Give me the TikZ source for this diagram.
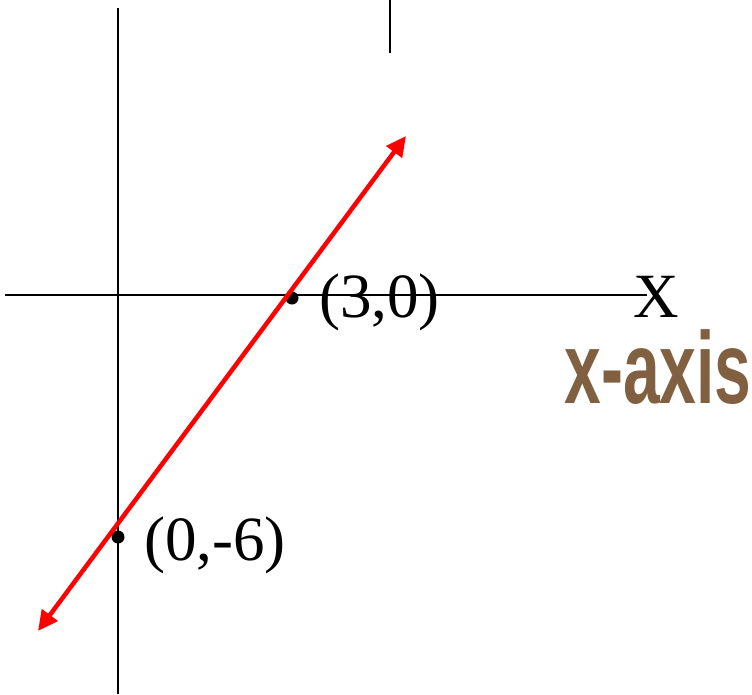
\documentclass[tikz,border=0pt]{standalone}
\usepackage{fontspec}
\setmainfont{Liberation Serif}
\newfontfamily\labelfont{Liberation Sans}
\usetikzlibrary{arrows.meta}
\definecolor{axisbrown}{RGB}{128,96,64}
\tikzset{
  axisline/.style={line width=2pt,black},
  redline/.style={line width=4.5pt,red,{Triangle[length=20pt,width=19pt]}-{Triangle[length=20pt,width=19pt]}},
  ptdot/.style={circle,fill=black,inner sep=0pt,minimum size=13pt},
  lbl/.style={font=\fontsize{63}{63}\selectfont,inner sep=0pt,anchor=west},
}
\begin{document}
\begin{tikzpicture}[x=1pt,y=-1pt]
\useasboundingbox (0,0) rectangle (752,694);
% axes
\coordinate (ytop) at (118,8);
\coordinate (ybot) at (118,694);
\coordinate (xl) at (5,295);
\coordinate (xr) at (647,295);
\coordinate (tt) at (390,0);
\coordinate (tb) at (390,53);
\draw[axisline] (ytop) -- (ybot);
\draw[axisline] (xl) -- (xr);
\draw[axisline] (tt) -- (tb);
% points
\node[ptdot] (p30) at (292,298) {};
\node[ptdot] (p06) at (118,537) {};
% red line
\coordinate (ra) at (38,631);
\coordinate (rb) at (406,136);
\draw[redline] (ra) -- (rb);
% labels
\node[lbl] (l30) at (319,302) {(3,0)};
\node[lbl] (l06) at (144,545) {(0,-6)};
\node[lbl,anchor=center] (lx) at (656,297) {X};
\node[font=\labelfont\bfseries\fontsize{100}{100}\selectfont,text=axisbrown,inner sep=0pt,anchor=base,xscale=0.66,yscale=1.02] (xaxis) at (658,403) {x-axis};
\end{tikzpicture}
\end{document}
